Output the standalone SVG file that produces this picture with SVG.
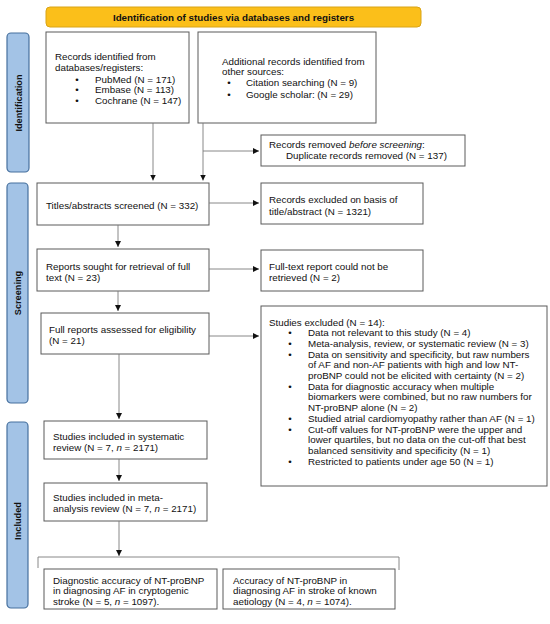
<svg xmlns="http://www.w3.org/2000/svg" width="550" height="624" viewBox="0 0 550 624">
<defs>
<style>
text{font-family:"Liberation Sans",Arial,sans-serif;font-size:9.8px;fill:#111}
.b{font-weight:bold}
.side{font-weight:bold;font-size:9.2px;text-anchor:middle}
.box{fill:#fff;stroke:#5a5a5a;stroke-width:1}
.sidebox{fill:#a3c3e6;stroke:#46709e;stroke-width:1.2}
.con{stroke:#7a7a7a;stroke-width:0.9;fill:none}
.bul{text-anchor:middle}
</style>
<marker id="ah" markerUnits="userSpaceOnUse" markerWidth="7" markerHeight="7" refX="6" refY="3" orient="auto">
<path d="M0,0 L6,3 L0,6 Z" fill="#111"/>
</marker>
</defs>
<rect width="550" height="624" fill="#fff"/>

<g id="header">
<rect x="46" y="7" width="375" height="20" rx="4" fill="#fbbf1a" stroke="#d9a416" stroke-width="1"/>
<text class="b" x="233.5" y="20.5" text-anchor="middle">Identification of studies via databases and registers</text>
</g>

<g id="side-identification">
<rect class="sidebox" x="7" y="33" width="22" height="139" rx="4"/>
<text class="side" transform="translate(21.5,103) rotate(-90)">Identification</text>
</g>
<g id="side-screening">
<rect class="sidebox" x="7" y="183" width="21" height="220" rx="4"/>
<text class="side" transform="translate(21,293) rotate(-90)">Screening</text>
</g>
<g id="side-included">
<rect class="sidebox" x="7" y="422" width="21" height="186" rx="4"/>
<text class="side" transform="translate(21,521) rotate(-90)">Included</text>
</g>

<g id="records-db">
<rect class="box" x="46" y="32" width="143" height="91"/>
<text x="55" y="60">Records identified from</text>
<text x="55" y="71">databases/registers:</text>
<text class="bul" x="77" y="82.5">•</text><text x="95" y="82.5">PubMed (N = 171)</text>
<text class="bul" x="77" y="93">•</text><text x="95" y="93">Embase (N = 113)</text>
<text class="bul" x="77" y="103.5">•</text><text x="95" y="103.5">Cochrane (N = 147)</text>
</g>

<g id="records-other">
<rect class="box" x="198" y="32" width="178" height="91"/>
<text x="222" y="65.3">Additional records identified from</text>
<text x="222" y="75.3">other sources:</text>
<text class="bul" x="229" y="86.3">•</text><text x="246" y="86.3">Citation searching (N = 9)</text>
<text class="bul" x="229" y="98.2">•</text><text x="246" y="98.2">Google scholar: (N = 29)</text>
</g>

<g id="removed">
<rect class="box" x="261" y="135" width="204" height="31"/>
<text x="269" y="147.5">Records removed <tspan font-style="italic">before screening</tspan>:</text>
<text x="286" y="158.7">Duplicate records removed (N = 137)</text>
</g>

<g id="screened">
<rect class="box" x="37" y="183" width="172" height="42"/>
<text x="46" y="208.5">Titles/abstracts screened (N = 332)</text>
</g>

<g id="excluded-title">
<rect class="box" x="261" y="183" width="162" height="41"/>
<text x="269" y="202.8">Records excluded on basis of</text>
<text x="269" y="214.5">title/abstract (N = 1321)</text>
</g>

<g id="sought">
<rect class="box" x="37" y="249" width="172" height="42"/>
<text x="46" y="269.5">Reports sought for retrieval of full</text>
<text x="46" y="280.8">text (N = 23)</text>
</g>

<g id="not-retrieved">
<rect class="box" x="261" y="250" width="162" height="41"/>
<text x="269" y="269.5">Full-text report could not be</text>
<text x="269" y="281">retrieved (N = 2)</text>
</g>

<g id="assessed">
<rect class="box" x="41" y="313" width="168" height="41"/>
<text x="49" y="332.8">Full reports assessed for eligibility</text>
<text x="49" y="344.2">(N = 21)</text>
</g>

<g id="studies-excluded">
<rect class="box" x="261" y="306" width="286" height="180"/>
<text x="269" y="325.5">Studies excluded (N = 14):</text>
<text class="bul" x="290" y="336.2">•</text><text x="308" y="336.2">Data not relevant to this study (N = 4)</text>
<text class="bul" x="290" y="346.9">•</text><text x="308" y="346.9">Meta-analysis, review, or systematic review (N = 3)</text>
<text class="bul" x="290" y="357.6">•</text><text x="308" y="357.6">Data on sensitivity and specificity, but raw numbers</text>
<text x="308" y="368.3">of AF and non-AF patients with high and low NT-</text>
<text x="308" y="379">proBNP could not be elicited with certainty (N = 2)</text>
<text class="bul" x="290" y="389.7">•</text><text x="308" y="389.7">Data for diagnostic accuracy when multiple</text>
<text x="308" y="400.4">biomarkers were combined, but no raw numbers for</text>
<text x="308" y="411.1">NT-proBNP alone (N = 2)</text>
<text class="bul" x="290" y="421.8">•</text><text x="308" y="421.8">Studied atrial cardiomyopathy rather than AF (N = 1)</text>
<text class="bul" x="290" y="432.5">•</text><text x="308" y="432.5">Cut-off values for NT-proBNP were the upper and</text>
<text x="308" y="443.2">lower quartiles, but no data on the cut-off that best</text>
<text x="308" y="453.9">balanced sensitivity and specificity (N = 1)</text>
<text class="bul" x="290" y="464.6">•</text><text x="308" y="464.6">Restricted to patients under age 50 (N = 1)</text>
</g>

<g id="included-sr">
<rect class="box" x="44" y="421" width="163" height="38"/>
<text x="53" y="439.5">Studies included in systematic</text>
<text x="53" y="451">review (N = 7, <tspan font-style="italic">n</tspan> = 2171)</text>
</g>

<g id="included-ma">
<rect class="box" x="44" y="483" width="163" height="38"/>
<text x="53" y="501.2">Studies included in meta-</text>
<text x="53" y="512">analysis review (N = 7, <tspan font-style="italic">n</tspan> = 2171)</text>
</g>

<g id="cryptogenic">
<rect class="box" x="44" y="569" width="173" height="40"/>
<text x="53" y="583.5">Diagnostic accuracy of NT-proBNP</text>
<text x="53" y="594.2">in diagnosing AF in cryptogenic</text>
<text x="53" y="604.5">stroke (N = 5, <tspan font-style="italic">n</tspan> = 1097).</text>
</g>

<g id="known">
<rect class="box" x="223" y="569" width="172" height="40"/>
<text x="233" y="583.5">Accuracy of NT-proBNP in</text>
<text x="233" y="594.2">diagnosing AF in stroke of known</text>
<text x="233" y="604.5">aetiology (N = 4, <tspan font-style="italic">n</tspan> = 1074).</text>
</g>

<g id="connectors">
<line class="con" x1="153" y1="123" x2="153" y2="180.5" marker-end="url(#ah)"/>
<line class="con" x1="203" y1="123" x2="203" y2="180.5" marker-end="url(#ah)"/>
<line class="con" x1="203" y1="151" x2="259" y2="151" marker-end="url(#ah)"/>
<line class="con" x1="209" y1="203" x2="259" y2="203" marker-end="url(#ah)"/>
<line class="con" x1="118" y1="225" x2="118" y2="247" marker-end="url(#ah)"/>
<line class="con" x1="209" y1="269" x2="259" y2="269" marker-end="url(#ah)"/>
<line class="con" x1="118" y1="291" x2="118" y2="311" marker-end="url(#ah)"/>
<line class="con" x1="209" y1="336" x2="259" y2="336" marker-end="url(#ah)"/>
<line class="con" x1="119" y1="354" x2="119" y2="419" marker-end="url(#ah)"/>
<line class="con" x1="119" y1="459" x2="119" y2="481" marker-end="url(#ah)"/>
<line class="con" x1="119" y1="521" x2="119" y2="556" marker-end="url(#ah)"/>
<polyline class="con" points="38,568 38,557 399,557 399,570"/>
</g>
</svg>
